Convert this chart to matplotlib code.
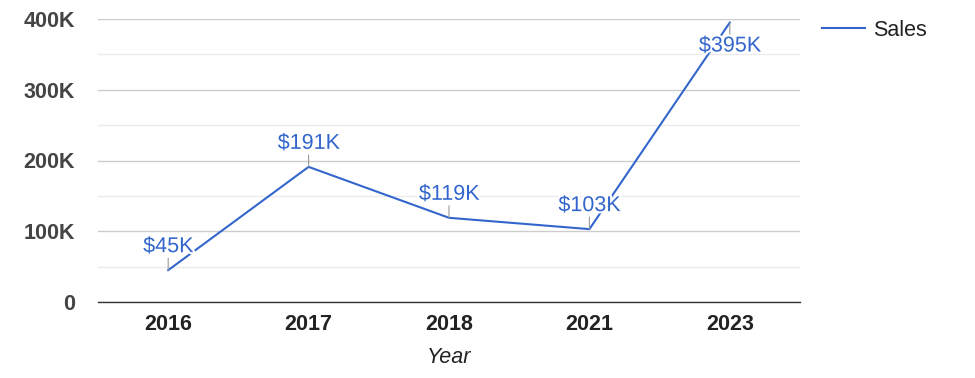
import matplotlib
matplotlib.use("Agg")
import matplotlib.pyplot as plt
import matplotlib.patheffects as pe
from matplotlib.ticker import FixedLocator

years = ["2016", "2017", "2018", "2021", "2023"]
sales = [45000, 191000, 119000, 103000, 395000]
labels = ["$45K", "$191K", "$119K", "$103K", "$395K"]
yticks = [0, 100000, 200000, 300000, 400000]
ytick_labels = ["0", "100K", "200K", "300K", "400K"]
minor_ticks = [50000, 150000, 250000, 350000]

plt.rcParams['font.family'] = ['Liberation Sans', 'DejaVu Sans']

fig = plt.figure(figsize=(9.75, 3.78), dpi=100)
ax = fig.add_axes([98/975, 1-302/378, 702/975, 283/378])

x = list(range(len(years)))
line_color = "#3366CC"
ax.plot(x, sales, color=line_color, linewidth=1.5, label="Sales", zorder=3, solid_joinstyle="miter")

ymax = 400000
for xi, yi, lab in zip(x, sales, labels):
    # place label below the point when it would overflow the top
    below = yi > 0.9 * ymax
    d = -1 if below else 1
    ax.annotate("", xy=(xi, yi), xytext=(0, 12 * d), textcoords="offset pixels",
                arrowprops=dict(arrowstyle="-", color="#999999", lw=0.8, shrinkA=0, shrinkB=0), zorder=4)
    ax.annotate(lab, xy=(xi, yi), xytext=(0, 13 * d), textcoords="offset pixels",
                ha="center", va="top" if below else "bottom", color="#3366CC", fontsize=15.5, zorder=5,
                path_effects=[pe.withStroke(linewidth=3, foreground="white")])

ax.set_xlim(-0.5, len(years) - 0.5)
ax.set_ylim(0, ymax)
ax.set_xticks(x)
ax.set_xticklabels(years, fontsize=15.5, fontweight="bold", color="#222222")
ax.set_yticks(yticks)
ax.set_yticklabels(ytick_labels, fontsize=15.5, fontweight="bold", color="#444444")
ax.yaxis.set_minor_locator(FixedLocator(minor_ticks))
ax.tick_params(axis="both", which="both", length=0)
ax.tick_params(axis="y", pad=16.5)
ax.tick_params(axis="x", pad=9)

ax.grid(axis="y", which="major", color="#cccccc", linewidth=1)
ax.grid(axis="y", which="minor", color="#ebebeb", linewidth=1)
ax.set_axisbelow(True)
for s in ["top", "right", "left"]:
    ax.spines[s].set_visible(False)
ax.spines["bottom"].set_color("#333333")
ax.spines["bottom"].set_linewidth(1)
ax.spines["bottom"].set_zorder(2)

ax.set_xlabel("Year", fontsize=15.5, fontstyle="italic", color="#222222", labelpad=8)

ax.legend(loc="center left", bbox_to_anchor=((822 - 98) / 702, (302 - 30) / 283), frameon=False,
          fontsize=15.5, handlelength=2.0, handletextpad=0.36, borderaxespad=0, borderpad=0,
          labelcolor="#222222")

fig.savefig("out.png", dpi=100)
